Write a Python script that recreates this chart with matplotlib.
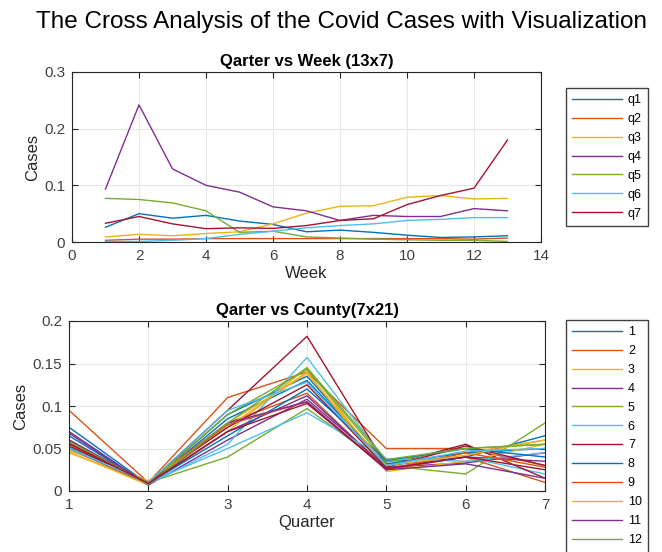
import matplotlib
matplotlib.use("Agg")
import matplotlib.pyplot as plt

plt.rcParams["font.family"] = ["Liberation Sans", "DejaVu Sans"]

# MATLAB default line colour order
colors = ["#0072BD", "#D95319", "#EDB120", "#7E2F8E", "#77AC30", "#4DBEEE", "#A2142F"]

weeks = list(range(1, 14))
q_labels = ["q1", "q2", "q3", "q4", "q5", "q6", "q7"]
q1 = [0.026, 0.050, 0.042, 0.047, 0.037, 0.031, 0.018, 0.021, 0.017, 0.012, 0.008, 0.009, 0.011]
q2 = [0.003, 0.005, 0.005, 0.006, 0.006, 0.006, 0.006, 0.006, 0.006, 0.006, 0.006, 0.005, 0.007]
q3 = [0.009, 0.0135, 0.011, 0.015, 0.018, 0.032, 0.051, 0.063, 0.064, 0.079, 0.082, 0.076, 0.077]
q4 = [0.0935, 0.242, 0.129, 0.100, 0.088, 0.062, 0.055, 0.038, 0.047, 0.045, 0.045, 0.059, 0.055]
q5 = [0.077, 0.075, 0.069, 0.055, 0.017, 0.019, 0.009, 0.007, 0.005, 0.004, 0.003, 0.003, 0.001]
q6 = [0.001, 0.001, 0.003, 0.006, 0.0135, 0.019, 0.025, 0.029, 0.032, 0.038, 0.040, 0.043, 0.043]
q7 = [0.033, 0.045, 0.032, 0.0235, 0.025, 0.024, 0.029, 0.038, 0.041, 0.066, 0.082, 0.095, 0.180]
week_series = [q1, q2, q3, q4, q5, q6, q7]

quarters = list(range(1, 8))
county_labels = [str(i) for i in range(1, 22)]
c1 = [0.075, 0.008, 0.090, 0.135, 0.030, 0.040, 0.065]
c2 = [0.095, 0.010, 0.110, 0.140, 0.050, 0.050, 0.030]
c3 = [0.045, 0.010, 0.070, 0.145, 0.025, 0.045, 0.060]
c4 = [0.068, 0.007, 0.060, 0.108, 0.028, 0.033, 0.045]
c5 = [0.055, 0.010, 0.040, 0.097, 0.030, 0.020, 0.080]
c6 = [0.050, 0.008, 0.055, 0.157, 0.035, 0.040, 0.020]
c7 = [0.060, 0.009, 0.095, 0.182, 0.030, 0.055, 0.015]
c8 = [0.065, 0.008, 0.085, 0.130, 0.032, 0.045, 0.050]
c9 = [0.055, 0.011, 0.080, 0.115, 0.025, 0.040, 0.010]
c10 = [0.048, 0.012, 0.075, 0.140, 0.023, 0.035, 0.055]
c11 = [0.060, 0.008, 0.070, 0.112, 0.027, 0.040, 0.035]
c12 = [0.058, 0.009, 0.090, 0.143, 0.034, 0.050, 0.055]
c13 = [0.052, 0.010, 0.050, 0.092, 0.038, 0.035, 0.045]
c14 = [0.053, 0.010, 0.075, 0.125, 0.028, 0.053, 0.030]
c15 = [0.050, 0.009, 0.065, 0.120, 0.036, 0.050, 0.040]
c16 = [0.050, 0.008, 0.078, 0.105, 0.025, 0.045, 0.028]
c17 = [0.046, 0.007, 0.080, 0.138, 0.030, 0.042, 0.060]
c18 = [0.070, 0.007, 0.080, 0.105, 0.025, 0.032, 0.015]
c19 = [0.058, 0.008, 0.080, 0.145, 0.037, 0.050, 0.055]
c20 = [0.050, 0.010, 0.095, 0.128, 0.030, 0.047, 0.050]
c21 = [0.056, 0.009, 0.070, 0.103, 0.026, 0.040, 0.025]
county_series = [c1, c2, c3, c4, c5, c6, c7, c8, c9, c10, c11, c12, c13, c14,
                 c15, c16, c17, c18, c19, c20, c21]


def style_axes(ax):
    ax.grid(True, color="#e6e6e6", linewidth=0.8)
    ax.set_axisbelow(True)
    ax.tick_params(direction="in", top=True, right=True, labelsize=11,
                   colors="#262626", labelcolor="#404040", length=4, pad=5)
    for s in ax.spines.values():
        s.set_color("#262626")
        s.set_linewidth(0.8)


def add_legend(ax, top_px):
    ax.legend(loc="upper left", bbox_to_anchor=(566 / 662, 1 - top_px / 552),
              bbox_transform=fig.transFigure, borderaxespad=0, fontsize=9,
              handlelength=4.0, labelspacing=0.55, fancybox=False,
              edgecolor="#404040", framealpha=1, handletextpad=0.45,
              borderpad=0.5)


fig = plt.figure(figsize=(6.62, 5.52), dpi=100)
fig.text(341 / 662, 1 - 22 / 552, "The Cross Analysis of the Covid Cases with Visualization",
         ha="center", va="center", fontsize=17.5)

ax1 = fig.add_axes([72 / 662, 1 - 242 / 552, 469 / 662, 170 / 552])
for i, ys in enumerate(week_series):
    ax1.plot(weeks, ys, color=colors[i % 7], linewidth=1.0, label=q_labels[i])
ax1.set_xlim(0, 14)
ax1.set_ylim(0, 0.3)
ax1.set_xticks(range(0, 15, 2))
ax1.set_yticks([0, 0.1, 0.2, 0.3])
ax1.set_yticklabels(["0", "0.1", "0.2", "0.3"])
ax1.set_title("Qarter vs Week (13x7)", fontsize=12, fontweight="bold", pad=4)
ax1.set_xlabel("Week", fontsize=12, color="#262626", labelpad=2)
ax1.set_ylabel("Cases", fontsize=12, color="#262626", labelpad=3)
style_axes(ax1)
add_legend(ax1, 88)

ax2 = fig.add_axes([69 / 662, 1 - 491 / 552, 476 / 662, 170 / 552])
for i, ys in enumerate(county_series):
    ax2.plot(quarters, ys, color=colors[i % 7], linewidth=1.0, label=county_labels[i])
ax2.set_xlim(1, 7)
ax2.set_ylim(0, 0.2)
ax2.set_xticks(quarters)
ax2.set_yticks([0, 0.05, 0.1, 0.15, 0.2])
ax2.set_yticklabels(["0", "0.05", "0.1", "0.15", "0.2"])
ax2.set_title("Qarter vs County(7x21)", fontsize=12, fontweight="bold", pad=4)
ax2.set_xlabel("Quarter", fontsize=12, color="#262626", labelpad=2)
ax2.set_ylabel("Cases", fontsize=12, color="#262626", labelpad=3)
style_axes(ax2)
add_legend(ax2, 320)

fig.savefig("out.png", dpi=100)
